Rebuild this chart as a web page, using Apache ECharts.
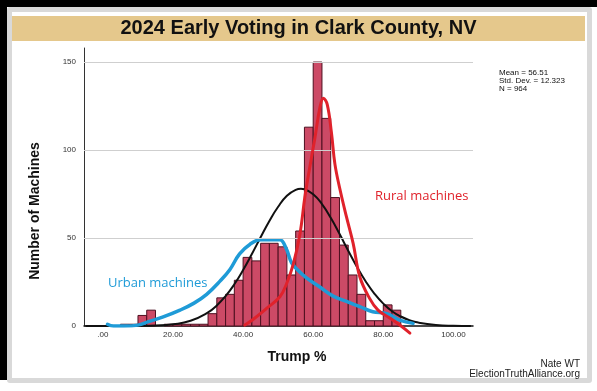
<!DOCTYPE html>
<html><head><meta charset="utf-8">
<script src="https://cdn.jsdelivr.net/npm/echarts@6/dist/echarts.min.js"></script>
<style>html,body{margin:0;padding:0;background:#fff}#c{width:597px;height:391px}</style>
</head><body><div id="c"></div>
<script>
// Histogram bins (start of each 2.5-wide bin) and counts
const binStarts = [5,7.5,10,12.5,15,17.5,20,22.5,25,27.5,30,32.5,35,37.5,40,42.5,45,47.5,50,52.5,55,57.5,60,62.5,65,67.5,70,72.5,75,77.5,80,82.5];
const binCounts = [1,1,6,9,0,1,1,1,1,1,7,16,18,26,39,37,47,47,45,29,54,113,150,118,73,46,29,18,3,3,12,9];
const binWidth = 2.5;

// Normal curve
const normalX = [-5,0,5,10,15,20,25,30,32.5,35,37.5,40,42.5,45,47.5,50,52.5,55,56.5,57.5,60,62.5,65,67.5,70,72.5,75,77.5,80,82.5,85,87.5,90,95,100,105];
const normalY = [0,0,0,0.06,0.27,0.97,2.97,7.7,11.7,17.0,23.7,31.8,40.9,50.4,59.7,67.8,74.0,77.4,78.0,77.7,74.9,69.3,61.5,52.4,42.8,33.6,25.3,18.3,12.7,8.4,5.4,3.3,1.94,0.59,0.15,0.03];

// Hand-drawn "Urban machines" curve
const urbanX = [1.3,3,6,10,13,17,22,26,29.6,33.4,36.2,39,42,45,48,50.5,52.3,53.8,55.5,58,62,65.7,69.5,73.3,77,81,84.7,88.5];
const urbanY = [1,0,0,0.5,2.5,5,9,13,18,25.5,32,41,46.5,49,49,49,44,36,32,27.5,22,17,14,11,8.1,7,3.4,1.5];

// Hand-drawn "Rural machines" curve
const ruralX = [40.5,43,46.7,50.5,52.4,54.3,56.2,57.6,59,60.5,61.9,62.9,64,65.2,66.2,67.6,69.5,71.4,73.3,76,78.5,81.5,84.7,87.6];
const ruralY = [0.5,4,10,16.6,24,35,52,73,90,107,124,129.5,126,110,92,78,62,47,28,16,9,5,0.6,-4];

const xTickValues = [0,20,40,60,80,100];
const xTickLabels = ['.00','20.00','40.00','60.00','80.00','100.00'];
const yTickValues = [0,50,100,150];
const yTickLabels = ['0','50','100','150'];

const statsLines = ['Mean = 56.51','Std. Dev. = 12.323','N = 964'];

const zip = (a,b) => a.map((v,i)=>[v,b[i]]);
const binData = binStarts.map((s,i)=>[s, s+binWidth, binCounts[i]]);

function txt(x,y,text,font,fill,align,valign,rot){
  return {type:'text', x:x, y:y, rotation:rot||0, silent:true, z:10,
    style:{text:text, font:font, fill:fill, align:align||'left', verticalAlign:valign||'middle',
      textAlign:align||'left', textVerticalAlign:valign||'middle'}};
}

const chart = echarts.init(document.getElementById('c'), null, {renderer:'canvas'});
const option = {
  animation:false,
  grid:{left:84, right:124, top:48, bottom:65, containLabel:false},
  xAxis:{type:'value', min:-5.4, max:105.6,
    axisLine:{show:true, onZero:false, lineStyle:{color:'#111', width:1.5}},
    axisTick:{show:false},
    splitLine:{show:false},
    axisLabel:{customValues:xTickValues, fontSize:8, color:'#333', margin:5, fontFamily:'Liberation Sans',
      formatter:v=>xTickLabels[xTickValues.indexOf(v)]}},
  yAxis:{type:'value', min:0, max:158,
    axisLine:{show:true, onZero:false, lineStyle:{color:'#333', width:1}},
    axisTick:{show:false},
    splitLine:{show:false},
    axisLabel:{customValues:yTickValues, fontSize:8, color:'#333', margin:8, fontFamily:'Liberation Sans',
      formatter:v=>yTickLabels[yTickValues.indexOf(v)]}},
  graphic:[
    {type:'rect', shape:{x:0,y:0,width:597,height:391}, style:{fill:'#fff'}, z:-10, silent:true},
    {type:'rect', shape:{x:7,y:7,width:585,height:376, r:3}, style:{fill:'#d9d9d9'}, z:-9, silent:true},
    {type:'rect', shape:{x:12,y:12,width:575,height:366}, style:{fill:'#fff'}, z:-8, silent:true},
    {type:'rect', shape:{x:0,y:0,width:597,height:7}, style:{fill:'#000'}, z:-7, silent:true},
    {type:'rect', shape:{x:0,y:0,width:7,height:380}, style:{fill:'#000'}, z:-7, silent:true},
    {type:'rect', shape:{x:12,y:16,width:573,height:25}, style:{fill:'#e5c88c'}, z:-6, silent:true},
    txt(298.5,28.5,'2024 Early Voting in Clark County, NV','bold 20px "Liberation Sans"','#111','center','middle'),
    txt(35,211,'Number of Machines','bold 14px "Liberation Sans"','#111','center','middle',Math.PI/2),
    txt(297,357,'Trump %','bold 14px "Liberation Sans"','#111','center','middle'),
    txt(108,283,'Urban machines','13px "Open Sans"','#1f9bd7','left','middle'),
    txt(375,196,'Rural machines','13px "Open Sans"','#e0222b','left','middle'),
    txt(499,73,statsLines[0],'8px "Liberation Sans"','#111','left','middle'),
    txt(499,81,statsLines[1],'8px "Liberation Sans"','#111','left','middle'),
    txt(499,89,statsLines[2],'8px "Liberation Sans"','#111','left','middle'),
    txt(580,364,'Nate WT','10px "Liberation Sans"','#222','right','middle'),
    txt(580,374,'ElectionTruthAlliance.org','10px "Liberation Sans"','#222','right','middle')
  ],
  series:[
    {type:'line', data:[], z:1, silent:true,
      markLine:{silent:true, symbol:'none', label:{show:false},
        lineStyle:{color:'#cfcfcf', width:1, type:'solid'},
        data:yTickValues.slice(1).map(v=>({yAxis:v}))}},
    {type:'custom', z:2, silent:true, data:binData, encode:{x:[0,1], y:2},
      renderItem:function(params, api){
        const c = api.value(2);
        if(!c) return null;
        const p0 = api.coord([api.value(0), c]);
        const p1 = api.coord([api.value(1), 0]);
        return {type:'rect', shape:{x:p0[0], y:p0[1], width:p1[0]-p0[0], height:p1[1]-p0[1]},
          style:{fill:'#cc4a66', stroke:'#4d1020', lineWidth:1}};
      }},
    {type:'line', z:3, data:zip(normalX,normalY), smooth:true, showSymbol:false, silent:true,
      lineStyle:{color:'#111', width:2}},
    {type:'line', z:4, data:zip(urbanX,urbanY), smooth:0.4, showSymbol:false, silent:true,
      lineStyle:{color:'#1f9bd7', width:3.5, cap:'round', join:'round'}},
    {type:'line', z:5, data:zip(ruralX,ruralY), smooth:0.4, showSymbol:false, silent:true, clip:false,
      lineStyle:{color:'#e0222b', width:3, cap:'round', join:'round'}}
  ]
};
chart.setOption(option);
</script></body></html>
